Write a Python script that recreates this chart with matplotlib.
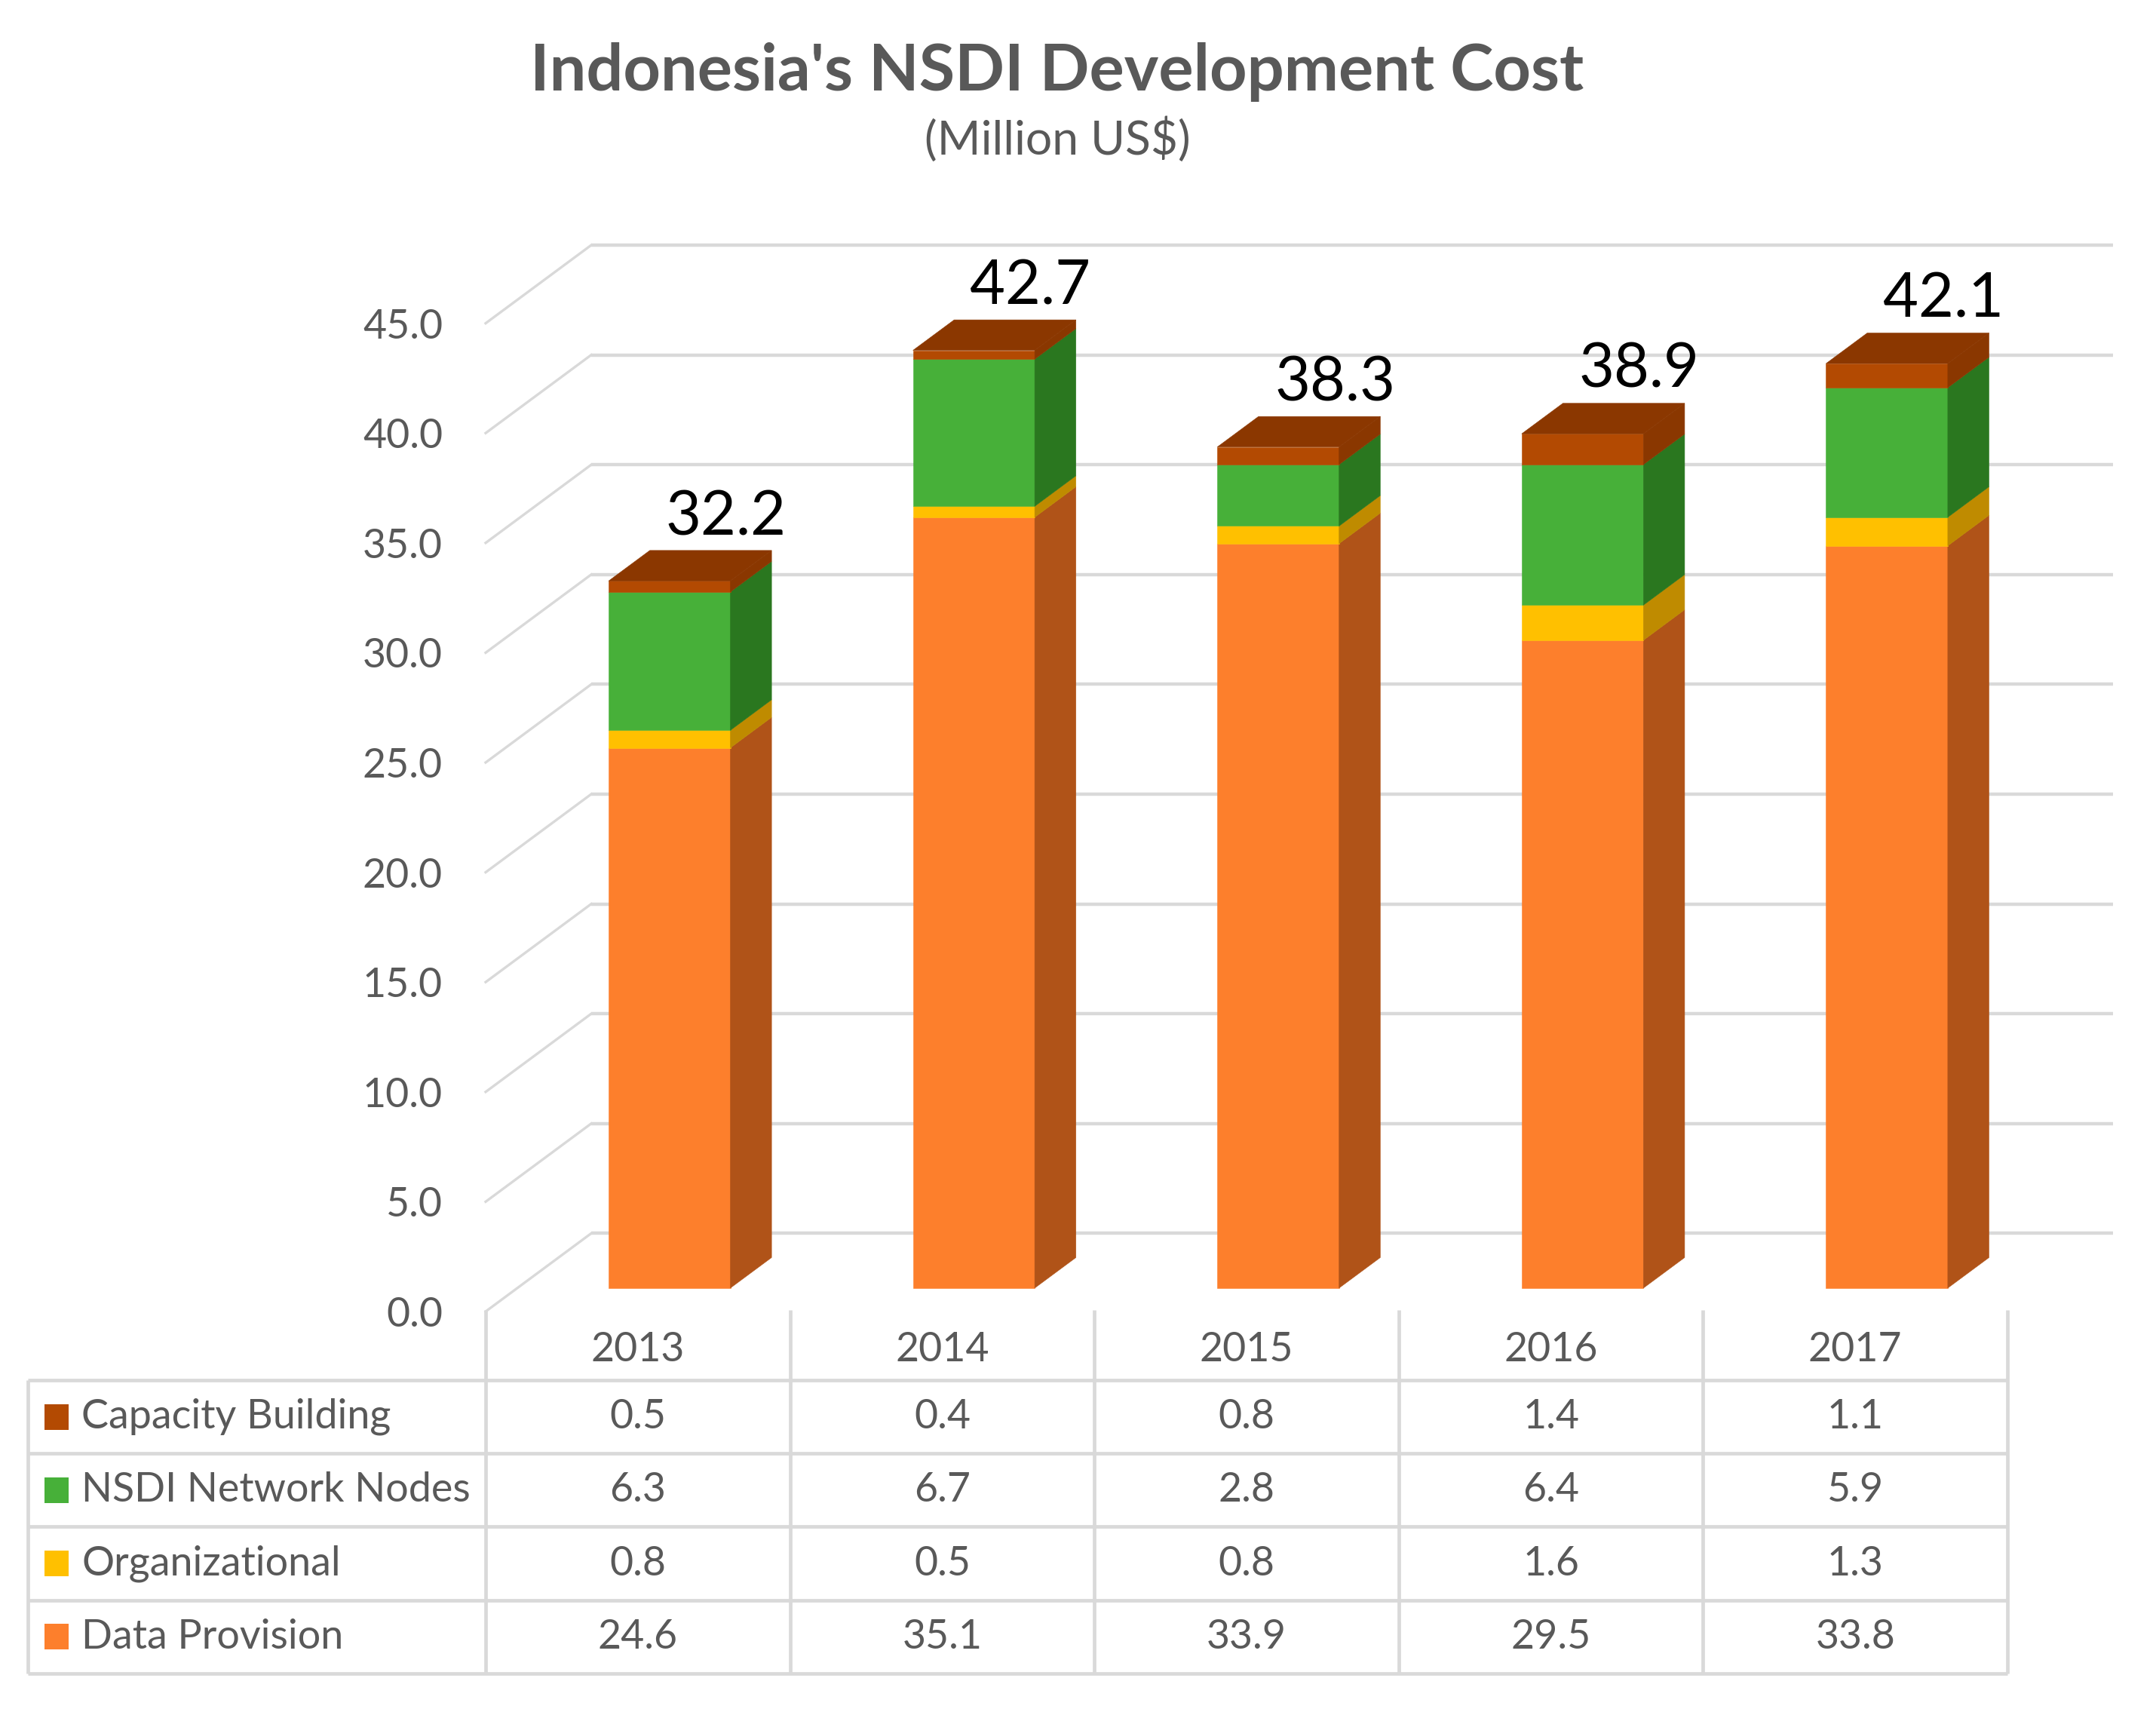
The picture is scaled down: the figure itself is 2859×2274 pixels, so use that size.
import matplotlib
matplotlib.use('Agg')
import matplotlib.pyplot as plt
from matplotlib.patches import Polygon, Rectangle

plt.rcParams['font.family'] = ['Lato', 'DejaVu Sans']

# data (million US$)
years = ['2013', '2014', '2015', '2016', '2017']
series_names = ['Data Provision', 'Organizational', 'NSDI Network Nodes', 'Capacity Building']
data_provision = [24.6, 35.1, 33.9, 29.5, 33.8]
organizational = [0.8, 0.5, 0.8, 1.6, 1.3]
network_nodes = [6.3, 6.7, 2.8, 6.4, 5.9]
capacity_building = [0.5, 0.4, 0.8, 1.4, 1.1]
y_ticks = [0, 5, 10, 15, 20, 25, 30, 35, 40, 45]

front_colors = ['#FD7F2C', '#FFC000', '#47B039', '#B34A02']
side_colors = ['#B05318', '#BF8B00', '#2A771F', '#8A3700']
top_color = '#8B3700'
grid_color = '#D9D9D9'
text_color = '#595959'

W, H = 2859, 2274
fig = plt.figure(figsize=(W / 100, H / 100), dpi=100)
renderer = fig.canvas.get_renderer()

# oblique 3d look: wall depth in data units, bar sits between F1 and F2 of that depth
DX, DY = 0.347, 3.56
F1, F2 = 0.30, 0.69
HALF = 0.2


def fit_size(s, target_px, **kw):
    t = fig.text(0, 0, s, fontsize=100, **kw)
    w = t.get_window_extent(renderer).width
    t.remove()
    return 100 * target_px / w


tick_fs = fit_size('45.0', 106)
legend_fs = fit_size('NSDI Network Nodes', 517)
title_fs = fit_size("Indonesia's NSDI Development Cost", 1397, weight='bold')
sub_fs = fit_size('(Million US$)', 353)
value_fs = fit_size('32.2', 160)

fig.text(1402 / W, 1 - 120 / H, "Indonesia's NSDI Development Cost", ha='center', va='baseline',
         fontsize=title_fs, weight='bold', color=text_color)
fig.text(1402 / W, 1 - 186 / H, '(Million US$)', ha='center', va='center',
         fontsize=sub_fs, color=text_color)

ax = fig.add_axes([644 / W, (H - 1739) / H, (2802 - 644) / W, (1739 - 325) / H])
ax.set_xlim(-0.5, 4.5 + DX)
ax.set_ylim(0, 45 + DY)
for s in ax.spines.values():
    s.set_visible(False)
ax.set_xticks([])
ax.set_yticks(y_ticks)
ax.set_yticklabels([f'{v:.1f}' for v in y_ticks])
ax.tick_params(axis='y', length=0, pad=41, labelsize=tick_fs, labelcolor=text_color)

# back wall and side wall gridlines
for v in y_ticks:
    ax.plot([-0.5 + DX, 4.5 + DX], [v + DY, v + DY], color=grid_color, lw=3.2, zorder=1,
            solid_capstyle='butt', clip_on=False)
    ax.plot([-0.5, -0.5 + DX], [v, v + DY], color=grid_color, lw=2.4, zorder=1, clip_on=False)


def prism(i, lo, hi, front, side, top=None):
    x0 = i - HALF + F1 * DX
    x1 = i + HALF + F1 * DX
    sx = (F2 - F1) * DX
    ax.add_patch(Rectangle((x0, lo + F1 * DY), 2 * HALF, hi - lo, facecolor=front,
                           edgecolor=front, lw=0.4, zorder=3))
    ax.add_patch(Polygon([(x1, lo + F1 * DY), (x1 + sx, lo + F2 * DY), (x1 + sx, hi + F2 * DY),
                          (x1, hi + F1 * DY)], closed=True, facecolor=side, edgecolor=side,
                         lw=0.4, zorder=3))
    if top is not None:
        ax.add_patch(Polygon([(x0, hi + F1 * DY), (x1, hi + F1 * DY), (x1 + sx, hi + F2 * DY),
                              (x0 + sx, hi + F2 * DY)], closed=True, facecolor=top,
                             edgecolor=top, lw=0.4, zorder=4))


stack = [data_provision, organizational, network_nodes, capacity_building]
for i in range(len(years)):
    base = 0.0
    for k, vals in enumerate(stack):
        last = k == len(stack) - 1
        prism(i, base, base + vals[i], front_colors[k], side_colors[k], top_color if last else None)
        base += vals[i]
    ax.annotate(f'{base:.1f}', xy=(i + 0.29, base + F2 * DY), xytext=(0, 15),
                textcoords='offset points', ha='center', va='baseline',
                fontsize=value_fs, color='black', zorder=5)

# data table under the chart
tax = fig.add_axes([36.6 / W, (H - 2219) / H, (2662 - 36.6) / W, (2219 - 1737) / H])
tax.set_xlim(-2.005, 4.5)
tax.set_ylim(4, -0.956)
tax.axis('off')

lw_t = 3.4
for r in range(5):
    tax.plot([-2.005, 4.5], [r, r], color=grid_color, lw=lw_t, clip_on=False, solid_capstyle='butt')
for c in range(6):
    tax.plot([c - 0.5, c - 0.5], [-0.956, 4], color=grid_color, lw=lw_t, clip_on=False,
             solid_capstyle='butt')
tax.plot([-2.005, -2.005], [0, 4], color=grid_color, lw=lw_t, clip_on=False, solid_capstyle='butt')

for i, yr in enumerate(years):
    tax.text(i, -0.42, yr, ha='center', va='center', fontsize=tick_fs, color=text_color)

rows = list(range(len(stack)))[::-1]
for r, k in enumerate(rows):
    tax.add_patch(Rectangle((-1.949, r + 0.5 - 0.175), 0.08, 0.35, facecolor=front_colors[k],
                            lw=0, clip_on=False))
    tax.text(-1.827, r + 0.5, series_names[k], ha='left', va='center', fontsize=legend_fs,
             color=text_color)
    for i in range(len(years)):
        tax.text(i, r + 0.5, f'{stack[k][i]:.1f}', ha='center', va='center', fontsize=tick_fs,
                 color=text_color)

fig.savefig('out.png', dpi=100)
